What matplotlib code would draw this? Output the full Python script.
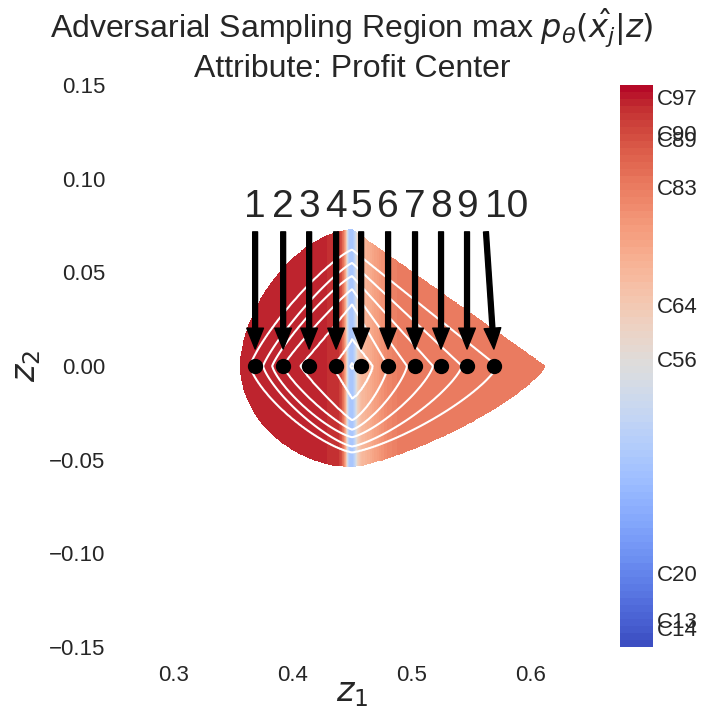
import numpy as np
import matplotlib
matplotlib.use("Agg")
import matplotlib.pyplot as plt
import seaborn as sns

sns.set_style("white")
plt.rcParams['font.family'] = ['Liberation Sans', 'DejaVu Sans']

# density contour crossings (centre at z1=0.450, z2=0.0)
centre = (0.450, 0.0)
dens_levels = [0.5, 1, 2, 3, 4, 5, 6, 7]
left_x = [0.356, 0.3645, 0.3754, 0.383, 0.392, 0.4065, 0.433, 0.4485]
right_x = [0.612, 0.5716, 0.5422, 0.5179, 0.4961, 0.4802, 0.4676, 0.4515]
top_y = [0.073, 0.062, 0.055, 0.048, 0.041, 0.033, 0.0145, 0.0015]
bottom_y = [-0.054, -0.046, -0.043, -0.038, -0.034, -0.029, -0.0175, -0.0015]
# how round each contour is on its left side (1 = pointed)
round_left = [1.9, 1.35, 1.3, 1.3, 1.2, 1.1, 1.0, 1.0]

# colour value of the predicted class along z1
colour_x = [0.40, 0.4383, 0.4417, 0.4442, 0.4459, 0.4475, 0.4509, 0.4526,
            0.4551, 0.4584, 0.4651, 0.4777, 0.4903, 0.62]
colour_v = [0.97, 0.96, 0.88, 0.70, 0.45, 0.33, 0.32, 0.40,
            0.58, 0.66, 0.70, 0.78, 0.82, 0.82]

# adversarial samples
sample_x = [0.3687, 0.3922, 0.4140, 0.4366, 0.4576, 0.4802, 0.5028, 0.5246, 0.5464, 0.5691]
sample_y = [0.0] * 10
label_x = [0.3687, 0.3922, 0.4140, 0.4366, 0.4576, 0.4802, 0.5028, 0.5246, 0.5464, 0.5800]
labels = [str(i + 1) for i in range(10)]

cbar_ticks = [0.979, 0.915, 0.903, 0.819, 0.609, 0.512, 0.132, 0.048, 0.034]
cbar_labels = ['C97', 'C90', 'C89', 'C83', 'C64', 'C56', 'C20', 'C13', 'C14']


def density_field(X, Y, p_tr=1.0, p_br=1.3):
    dx = X - centre[0]
    dy = Y - centre[1]
    r = []
    for k in range(len(dens_levels)):
        p_left = round_left[k]
        p = np.where(dx < 0, np.where(dy > 0, p_left * 0.9, p_left), np.where(dy > 0, p_tr, p_br))
        a = np.where(dx < 0, centre[0] - left_x[k], right_x[k] - centre[0])
        b = np.where(dy > 0, top_y[k] - centre[1], centre[1] - bottom_y[k])
        r.append(((np.abs(dx) / a) ** p + (np.abs(dy) / b) ** p) ** (1 / p))
    r = np.array(r)
    D = np.full(X.shape, dens_levels[-1] + 0.5)
    D = np.where(r[0] > 1, dens_levels[0] / np.maximum(r[0], 1e-9), D)
    for k in range(len(dens_levels) - 1):
        inside = (r[k] <= 1) & (r[k + 1] > 1)
        t = (1 - r[k]) / (r[k + 1] - r[k])
        v = dens_levels[k] + t * (dens_levels[k + 1] - dens_levels[k])
        D = np.where(inside, v, D)
    return D


gx = np.linspace(0.30, 0.64, 500)
gy = np.linspace(-0.08, 0.10, 400)
X, Y = np.meshgrid(gx, gy)
D = density_field(X, Y)
C = np.interp(X, colour_x, colour_v)
C = np.ma.masked_where(D < dens_levels[0], C)

fig = plt.figure(figsize=(7.2, 7.2), dpi=100)
ax = fig.add_axes([0.171, 0.1014, 0.636, 0.7806])
cax = fig.add_axes([0.861, 0.1014, 0.046, 0.7806])

cf = ax.contourf(X, Y, C, levels=np.linspace(0, 1, 81), cmap='coolwarm', vmin=0, vmax=1)
ax.contour(X, Y, D, levels=dens_levels[1:], colors='white', linewidths=1.5)

ax.plot(sample_x, sample_y, 'o', color='black', markersize=10)
for lx, sx, sy, lab in zip(label_x, sample_x, sample_y, labels):
    ax.annotate(lab, xy=(sx, sy + 0.007), xytext=(lx, 0.085),
                ha='center', va='center', fontsize=28, color='#262626',
                arrowprops=dict(facecolor='black', edgecolor='black',
                                width=3.5, headwidth=12, headlength=15, shrink=0.03))

ax.set_xlim(0.258, 0.642)
ax.set_ylim(-0.15, 0.15)
ax.set_xticks([0.3, 0.4, 0.5, 0.6])
ax.set_yticks([-0.15, -0.10, -0.05, 0.0, 0.05, 0.10, 0.15])
ax.tick_params(axis='both', labelsize=16, length=0, pad=13, labelcolor='#262626')
for s in ax.spines.values():
    s.set_visible(False)
ax.set_xlabel('$z_1$', fontsize=24, labelpad=-6, color='#262626')
ax.set_ylabel('$z_2$', fontsize=24, labelpad=4, color='#262626')
ax.set_title('Adversarial Sampling Region max $p_\\theta(\\hat{x_j}|z)$\nAttribute: Profit Center',
             fontsize=23, color='#262626', pad=6)

cb = fig.colorbar(cf, cax=cax)
cb.outline.set_visible(False)
cb.set_ticks(cbar_ticks)
cb.set_ticklabels(cbar_labels)
cb.ax.tick_params(length=0, pad=3, labelsize=16, labelcolor='#262626')

fig.savefig('out.png', dpi=100)
